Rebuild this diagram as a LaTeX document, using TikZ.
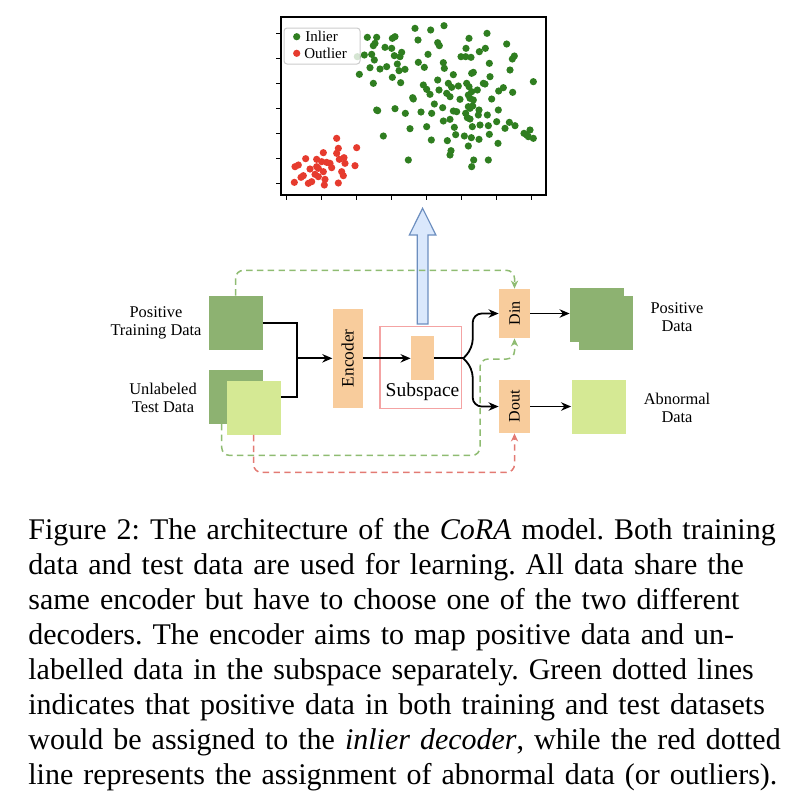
\documentclass[tikz,border=0pt]{standalone}
\usepackage{fontspec}
\setmainfont{Liberation Serif}
\usepackage{graphicx}
\usetikzlibrary{arrows.meta}

\definecolor{dkgreen}{HTML}{8DB271}
\definecolor{ltgreen}{HTML}{D5E994}
\definecolor{peach}{HTML}{F8CC9C}
\definecolor{pinkline}{HTML}{F4A3A3}
\definecolor{skyfill}{HTML}{DAE8FC}
\definecolor{skyline}{HTML}{6C8EBF}
\definecolor{gdashc}{HTML}{8FBC72}
\definecolor{rdashc}{HTML}{E37A73}
\definecolor{inlc}{HTML}{2F7E20}
\definecolor{outc}{HTML}{E63B2E}

\begin{document}
\begin{tikzpicture}[x=0.5pt, y=-0.5pt,
    data node/.style={rectangle, inner sep=0pt, minimum size=27pt},
    coder node/.style={rectangle, fill=peach, inner sep=0pt},
    label node/.style={align=center, inner sep=0pt, font=\fontsize{8.2}{9}\selectfont},
    conn/.style={-{Stealth[length=5pt,width=4.2pt,inset=1.6pt]}, line width=0.9pt},
    gdash/.style={draw=gdashc, line width=0.75pt, dash pattern=on 3.2pt off 2.2pt,
                  rounded corners=4pt, -{Stealth[length=4pt,width=3.6pt,inset=1.2pt]}},
    rdash/.style={gdash, draw=rdashc}]

  \useasboundingbox (0,0) rectangle (806,800);

  % scatter plot of the subspace
  \draw[line width=0.75pt] (281,17) rectangle (546,195);
  \foreach \t in {0,...,7}
    \draw[line width=0.6pt] ({286.7+35*\t},195) -- ++(0,5);
  \foreach \t in {0,...,6}
    \draw[line width=0.6pt] (281,{33.3+25*\t}) -- ++(-5,0);
  \foreach \x/\y in {435/85,482/90,522/77,651/100,597/115,292/112,320/112,367/115,375/110,
      444/120,503/128,508/137,315/130,310/137,345/142,365/145,395/157,390/170,373/167,
      283/165,305/163,262/170,313/180,474/163,573/170,587/170,603/172,628/155,646/145,
      588/145,710/132,733/168,727/177,445/187,520/188,382/192,300/203,330/207,350/200,
      387/212,405/208,463/202,523/205,658/190,268/223,367/232,550/224,605/220,610/217,
      660/230,720/210,790/245,503/240,310/250,392/248,460/255,470/268,535/250,545/262,
      565/258,590/250,597/260,640/250,645/252,700/263,686/273,728/277,507/270,480/283,
      530/280,540/290,595/285,605/275,622/270,428/293,430/297,570/298,600/295,610/300,
      665/297,493/312,595/320,600/325,608/318,627/330,320/330,323/332,375/326,406/340,
      453/336,485/340,518/323,550/333,560/335,587/340,625/345,652/345,685/330,592/353,
      600/357,540/358,520/363,680/365,718/367,470/380,553/382,607/380,630/375,655/377,
      705/385,735/377,420/386,340/408,484/420,532/422,557/404,583/408,604/413,627/418,
      658/403,762/400,770/405,775/410,780/390,790/415,595/438,684/430,543/452,540/465,
      415/480,611/480,655/480,605/500}
    \fill[inlc] ({270+\x/3},{\y/3}) circle[radius=1.8pt];
  \foreach \x/\y in {200/415,260/443,205/445,200/460,160/458,107/476,140/478,222/473,
      208/478,180/490,170/487,155/485,140/500,225/490,85/495,75/500,255/497,120/507,
      145/505,160/515,185/503,215/515,100/527,93/532,135/523,165/538,220/527,73/547,
      115/550,125/545,163/555,205/549,145/530}
    \fill[outc] ({270+\x/3},{\y/3}) circle[radius=1.8pt];
  \draw[draw=black!20, fill=white, fill opacity=0.8, rounded corners=1.5pt,
        line width=0.5pt] (284,28) rectangle (360,64);
  \fill[inlc] (296.7,36.7) circle[radius=1.8pt];
  \fill[outc] (296.7,53.3) circle[radius=1.8pt];
  \node[anchor=base west, inner sep=0pt, font=\fontsize{7.5}{9}\selectfont] (inl) at (305,41.7) {Inlier};
  \node[anchor=base west, inner sep=0pt, font=\fontsize{7.5}{9}\selectfont] (outl) at (304,58.3) {Outlier};

  % input data
  \node[data node, fill=dkgreen] (ptd) at (235.5,323) {};
  \node[label node] (ptdl) at (156,323) {Positive\\Training Data};
  \node[data node, fill=dkgreen] (utb) at (235.5,396.5) {};
  \node[data node, fill=ltgreen] (utf) at (253.5,407.5) {};
  \node[label node] (utdl) at (163,398) {Unlabeled\\Test Data};

  % encoder and subspace
  \node[coder node, minimum width=15pt, minimum height=49.5pt,
        font=\fontsize{8.7}{10}\selectfont] (enc) at (347.7,358.3) {\rotatebox{90}{Encoder}};
  \node[draw=pinkline, line width=0.6pt, inner sep=0pt, minimum size=40.8pt] (sub) at (420.8,367.5) {};
  \node[coder node, minimum width=11.35pt, minimum height=22.15pt] (sml) at (422.3,358.3) {};
  \node[anchor=base, inner sep=0pt, font=\fontsize{9.75}{11}\selectfont] (subl) at (422.5,396.7) {Subspace};

  % decoders and outputs
  \node[coder node, minimum width=15.5pt, minimum height=24.5pt,
        font=\fontsize{8}{9}\selectfont] (din) at (514.5,313.5) {\rotatebox{90}{Din}};
  \node[coder node, minimum width=15.5pt, minimum height=26.5pt,
        font=\fontsize{8}{9}\selectfont] (dout) at (514.5,406.5) {\rotatebox{90}{Dout}};
  \node[data node, fill=dkgreen] (pdb) at (597,314.5) {};
  \node[data node, fill=dkgreen] (pdf) at (606,323) {};
  \node[label node] (pdl) at (677,317.5) {Positive\\Data};
  \node[data node, fill=ltgreen] (abn) at (598.5,406.5) {};
  \node[label node] (abl) at (677,407.5) {Abnormal\\Data};

  % subspace arrow
  \coordinate (ab) at (422.3,324);
  \draw[draw=skyline, fill=skyfill, line width=0.6pt]
    (ab) ++(-5,0) -- ++(0,-89) -- ++(-8,0) -- ++(13.3,-26.7) -- ++(13.3,26.7)
    -- ++(-8,0) -- ++(0,89) -- cycle;

  % connectors
  \coordinate (jn) at (297,358.3);
  \coordinate (spl) at (463.3,358.3);
  \draw[line width=0.9pt] (ptd.east) -| (jn);
  \draw[line width=0.9pt] ([yshift=5.4pt]utf.east) -| (jn);
  \draw[conn] (jn) -- (enc.west);
  \draw[conn] (enc.east) -- (sml.west);
  \draw[line width=0.9pt] (sml.east) -- (spl);
  \draw[conn, rounded corners=4.5pt] (spl) -- ++(9.4,-10) |- (din.west);
  \draw[conn, rounded corners=4.5pt] (spl) -- ++(9.4,10) |- (dout.west);
  \draw[conn] (din.east) -- (din.east -| pdb.west);
  \draw[conn] (dout.east) -- (abn.west);

  % assignment lines
  \coordinate (gturn) at (480,359);
  \draw[gdash] (ptd.north) -- ++(0,-25.3) -| (din.north);
  \draw[gdash] ([xshift=-6.9pt]utb.south) -- ++(0,31.5) -| (gturn) -| (din.south);
  \draw[rdash] (utf.south) -- ++(0,37.5) -| (dout.south);

  % caption
  \node[anchor=north west, inner sep=0pt, text width=375pt,
        font=\fontsize{15}{17.5}\selectfont\frenchspacing] (cap) at (28,518) {%
    \hbox to 375pt{Figure 2: The architecture of the \textit{CoRA} model. Both training}
    \hbox to 375pt{data and test data are used for learning. All data share the}
    \hbox to 375pt{same encoder but have to choose one of the two different}
    \hbox to 375pt{decoders. The encoder aims to map positive data and un-}
    \hbox to 375pt{labelled data in the subspace separately. Green dotted lines}
    \hbox to 375pt{indicates that positive data in both training and test datasets}
    \hbox to 375pt{would be assigned to the \textit{inlier decoder}, while the red dotted}
    \hbox to 375pt{line represents the assignment of abnormal data (or outliers).\hfil}};
\end{tikzpicture}
\end{document}
